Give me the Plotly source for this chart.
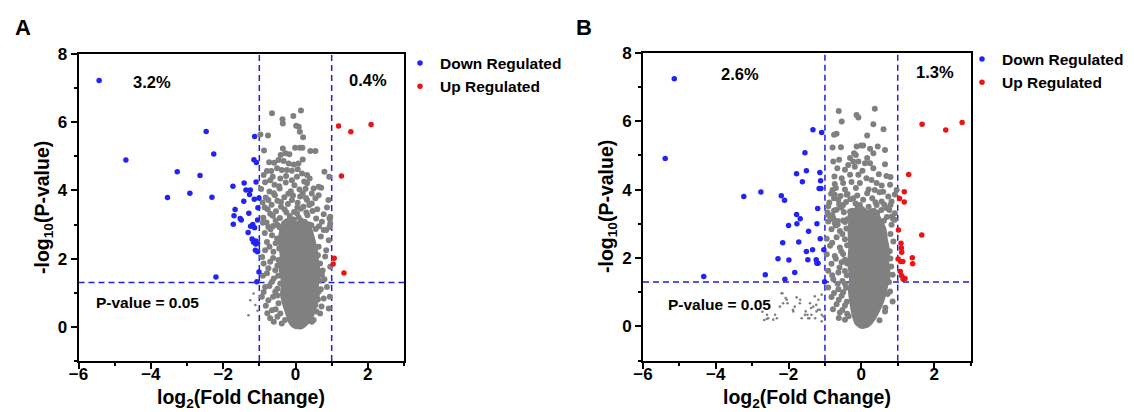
import plotly.graph_objects as go

W, H = 1134, 412
FONT = "Liberation Sans"
BLUE = "rgb(35,35,245)"
RED = "rgb(235,20,20)"
GRAY = "rgb(128,128,128)"
DASH = "rgb(30,30,220)"

# ---------------- Panel A data ----------------
a_down_x = [-5.43, -4.69, -3.27, -3.54, -2.92, -2.64, -2.47, -2.26, -2.31, -2.20, -1.73, -1.42, -1.67, -1.70,
            -1.72, -1.53, -1.50, -1.37, -1.25, -1.27, -1.43, -1.29, -1.31, -1.24, -1.18, -1.13, -1.20, -1.16,
            -1.10, -1.10, -1.05, -1.13, -1.15, -1.08, -1.09, -1.14, -1.01, -1.04, -1.05, -1.11, -1.05, -1.01, -1.07]
a_down_y = [7.22, 4.89, 4.55, 3.79, 3.92, 4.44, 5.73, 5.07, 3.80, 1.46, 4.12, 4.22, 3.44, 3.26,
            3.01, 3.18, 3.13, 4.01, 4.01, 3.88, 3.68, 3.33, 2.77, 2.95, 3.00, 2.91, 2.58, 2.48,
            2.52, 2.43, 2.45, 5.58, 4.90, 4.82, 4.25, 3.74, 3.78, 3.49, 3.13, 2.25, 2.20, 1.61, 1.32]
a_up_x = [1.19, 1.53, 2.09, 1.27, 1.07, 1.04, 1.34]
a_up_y = [5.89, 5.72, 5.93, 4.42, 2.01, 1.84, 1.58]

# dense core of the gray cloud (outline of overlapping points)
a_core_x = [-0.32, -0.12, 0.05, 0.25, 0.40, 0.48, 0.55, 0.58, 0.62, 0.58, 0.60, 0.52, 0.45, 0.30, 0.15,
            -0.02, -0.12, -0.20, -0.28, -0.36, -0.33, -0.40, -0.37, -0.42]
a_core_y = [3.05, 3.15, 3.02, 3.10, 2.85, 2.55, 2.25, 1.95, 1.60, 1.25, 0.90, 0.60, 0.35, 0.12, 0.00,
            0.02, 0.12, 0.35, 0.60, 0.95, 1.30, 1.70, 2.10, 2.55]

a_gray_x = [-0.65, -0.36, -0.35, -0.06, 0.15, 0.02, 0.09, 0.12, 0.21, -0.97, -0.76, -0.87, -0.35, -0.41, -0.28,
            -0.17, -0.01, 0.12, 0.19, 0.41, 0.55, 0.20, -0.47, -0.59, -0.73, -0.33, -0.19, -0.05, 0.08, -0.79,
            -0.67, -0.51, -0.38, -0.24, -0.10, 0.06, 0.18, 0.32, 0.80, 0.93, -0.88, -0.63, -0.42, -0.26, 0.04,
            0.39, 0.64, 0.71, 0.50, 0.32, 0.45, 0.64, 0.55, 0.91, 0.87, 0.78, 0.96, 0.73, 0.96, 0.32, 0.13,
            0.22, 0.04,
            -0.84, -0.58, -0.27, -0.03, 0.24,
            -0.95, -0.72, -0.44, -0.13, 0.11,
            -0.82, -0.57, -0.31, -0.07, 0.29,
            -0.91, -0.66, -0.40, -0.21, 0.06, 0.38,
            -0.77, -0.54, -0.30, -0.04, 0.15, 0.47,
            -0.89, -0.63, -0.43, -0.16, 0.09, 0.33, 0.57,
            -0.80, -0.50, -0.27, 0.01, 0.21, 0.44,
            -0.69, -0.44, 0.56,
            0.94, 0.94, 0.85,
            -0.75, -0.65, -0.79, -0.51, -0.84, -0.61, -0.70, -0.88, -0.47, -0.56, -0.79, -0.65, -0.42, -0.84,
            -0.56, -0.75, -0.47, -0.65, -0.42, -0.70, -0.29, -0.93,
            0.78, 0.92, 0.64, 0.82, 0.96, 0.68, 0.73, 0.87, 0.64, 0.78, 0.55, 0.92, 0.95, 0.68, 0.50,
            -0.85, -0.55, -0.72, -0.45, -0.92, -0.62, -0.50, -0.75, -0.90, -0.48, -0.60, -0.72, -0.50, -0.88,
            -0.62, -0.50, -0.82, -0.55, -0.78, -0.50, -0.38, -0.60,
            0.70, 0.62, 0.75, 0.66, 0.80, 0.70, 0.62, 0.72, 0.58, 0.45, 0.85,
            -0.70, -0.45, -0.10, 0.28, -0.60, -0.20, 0.20, -0.75, -0.50, -0.10, 0.45, -0.85, -0.40, 0.05,
            0.30, -0.70, -0.25, 0.60, -0.55, -0.05, 0.15, 0.38, -0.90, -0.62, -0.35, 0.65]
a_gray_y = [6.26, 6.09, 5.96, 6.18, 6.34, 5.90, 5.87, 5.72, 5.56, 5.64, 5.61, 5.17, 5.23, 5.04, 5.09,
            5.06, 5.25, 5.25, 5.25, 5.16, 5.16, 4.91, 4.89, 4.81, 4.83, 4.86, 4.79, 4.76, 4.79, 4.57,
            4.57, 4.65, 4.60, 4.60, 4.58, 4.62, 4.50, 4.45, 4.55, 4.40, 4.45, 4.40, 4.35, 4.42, 4.40,
            4.35, 4.11, 4.08, 4.06, 4.21, 3.91, 3.86, 3.77, 3.72, 3.50, 3.30, 3.23, 3.08, 3.03, 3.72, 3.82,
            3.52, 3.33,
            4.24, 4.17, 4.23, 4.15, 4.26,
            4.04, 3.97, 4.06, 3.98, 4.03,
            3.79, 3.86, 3.80, 3.85, 3.78,
            3.65, 3.58, 3.66, 3.60, 3.64, 3.57,
            3.45, 3.39, 3.44, 3.37, 3.46, 3.40,
            3.20, 3.26, 3.19, 3.25, 3.21, 3.27, 3.18,
            3.06, 2.99, 3.05, 3.00, 3.07, 2.98,
            2.86, 2.92, 2.87,
            3.18, 2.93, 2.84,
            2.93, 2.69, 2.49, 2.59, 2.25, 2.20, 1.91, 1.86, 1.96, 1.66, 1.57, 1.32, 1.27, 1.17,
            1.03, 0.78, 0.69, 0.49, 0.39, 0.25, 0.20, 0.88,
            2.84, 2.54, 2.35, 2.06, 1.76, 1.86, 1.52, 1.17, 1.03, 0.83, 0.64, 0.54, 0.88, 0.39, 0.20,
            2.75, 2.45, 2.35, 2.30, 2.05, 2.02, 1.80, 1.72, 1.50, 1.50, 1.42, 1.20, 1.12, 1.02,
            0.88, 0.92, 0.62, 0.52, 0.40, 0.30, 0.10, 0.15,
            2.65, 2.10, 1.65, 1.35, 1.40, 1.10, 0.80, 0.60, 0.45, 0.15, 2.25,
            4.30, 4.12, 4.30, 4.05, 3.92, 3.90, 3.92, 3.72, 3.70, 3.72, 3.62, 3.50, 3.52, 3.50,
            3.35, 3.32, 3.35, 3.45, 3.12, 3.15, 3.12, 3.00, 3.05, 2.96, 2.80, 2.95]
a_small_x = [-1.16, -1.25, -1.11, -1.30, -1.05]
a_small_y = [0.98, 0.78, 0.64, 0.34, 0.47]

# ---------------- Panel B data ----------------
b_down_x = [-5.14, -5.39, -3.23, -2.76, -2.20, -2.11, -4.33, -2.64, -2.29, -2.16, -2.00, -1.99, -2.10, -1.83,
            -1.78, -1.68, -1.77, -1.72, -1.78, -1.62, -1.51, -1.55, -1.45, -1.51, -1.47, -1.33, -1.34, -1.24,
            -1.22, -1.19, -1.20, -1.22, -1.14, -1.12, -1.16, -1.11, -1.09, -1.13, -1.03, -1.01]
b_down_y = [7.24, 4.91, 3.80, 3.93, 3.82, 3.69, 1.46, 1.51, 1.98, 2.45, 2.95, 1.94, 1.38, 1.58,
            3.27, 3.15, 3.00, 2.47, 4.46, 4.23, 4.55, 5.08, 2.78, 2.19, 1.95, 5.75, 2.24, 1.95,
            1.85, 1.85, 3.45, 3.00, 4.50, 4.26, 4.03, 4.03, 5.67, 2.56, 2.24, 1.31]
b_up_x = [1.67, 2.32, 2.77, 1.30, 1.18, 1.18, 1.05, 1.66, 1.02, 1.09, 1.10, 1.11, 1.01, 1.08, 1.14,
          1.40, 1.41, 1.07, 1.11, 1.15, 1.20]
b_up_y = [5.91, 5.74, 5.96, 4.44, 3.94, 3.64, 3.74, 2.67, 2.82, 2.43, 2.29, 2.17, 1.97, 1.90, 1.90,
          2.01, 1.83, 1.61, 1.48, 1.38, 1.40]

b_core_x = [-0.22, 0.02, 0.15, 0.35, 0.48, 0.62, 0.66, 0.72, 0.70, 0.74, 0.66, 0.58, 0.46, 0.32, 0.18,
            0.02, -0.12, -0.20, -0.26, -0.30, -0.27, -0.32, -0.29, -0.31]
b_core_y = [3.35, 3.45, 3.32, 3.40, 3.15, 2.85, 2.55, 2.20, 1.85, 1.50, 1.15, 0.80, 0.50, 0.22, 0.05,
            0.00, 0.10, 0.35, 0.70, 1.05, 1.45, 1.85, 2.30, 2.85]

b_gray_x = [-0.62, -0.54, -0.13, -0.08, 0.37, 0.33, 0.61, 0.16, -0.75, -0.68, -0.79, -0.56, -0.13, -0.01, 0.05,
            0.24, 0.45, 0.65, -0.20, -0.15, 0.33, -0.31, 0.16, -0.61, -0.77, -0.22, -0.08, 0.10, 0.24, 0.65,
            -0.36, -0.66, -0.45, -0.18, 0.33, 0.03, 0.48, 0.69, 0.80, -0.74, -0.54, -0.31, -0.08, 0.14, 0.28,
            -0.73, -0.79, -0.50, -0.27, -0.04, 0.42, 0.56, 0.79, 0.37, 0.60, 0.92, 0.97, 0.74, 0.56, 0.83,
            0.42, 0.69, 0.92, -0.73, -0.63, -0.68, -0.91, -0.91, -0.77, -0.40, -0.50, -0.22, -0.04, -0.31,
            0.05, 0.24, 0.83, 0.92,
            -0.83, -0.57, -0.38, -0.11, 0.16,
            -0.88, -0.61, -0.42, -0.16, 0.39, 0.63,
            -0.93, -0.75, -0.48, -0.24, 0.44, 0.77,
            -0.84, -0.65, -0.38, 0.62, 0.87,
            -0.91, -0.73, -0.50, -0.82, -0.59, -0.41, -0.95, -0.68, -0.45, -0.86, -0.59, -0.39,
            -0.95, -0.73, -0.50, -0.82, -0.54, -0.39, -0.91, -0.63, -0.45, -0.77, -0.52,
            -0.91, -0.63, -0.42, -0.82, -0.54, -0.68, -0.45, -0.59, -0.39, -0.45,
            0.83, 0.88, 0.80, 0.86, 0.79, 0.86, 0.65,
            -0.70, -0.52, -0.80, -0.55, -0.70, -0.45, -0.60, -0.80, -0.40, -0.65, -0.45, -0.75, -0.50, -0.62,
            -0.40, -0.78, -0.52, -0.35, -0.62,
            0.80, 0.78, 0.82, 0.76, 0.72, 0.66, 0.50,
            -0.70, -0.45, -0.15, 0.20, 0.50, -0.75, -0.30, 0.05, 0.30, 0.80, -0.55, -0.10, 0.20, 0.55,
            -0.80, -0.30, 0.10, 0.70, -0.65, -0.45]
b_gray_y = [6.30, 5.99, 6.18, 6.11, 6.36, 5.91, 5.76, 5.58, 5.60, 5.63, 5.23, 5.24, 5.26, 5.29, 5.29,
            5.19, 5.26, 5.16, 5.06, 5.01, 5.06, 4.92, 4.92, 4.87, 4.82, 4.82, 4.82, 4.77, 4.77, 4.74,
            4.72, 4.62, 4.58, 4.67, 4.62, 4.55, 4.45, 4.40, 4.37, 4.38, 4.33, 4.43, 4.43, 4.33, 4.28,
            4.16, 3.99, 4.19, 4.22, 4.19, 4.19, 4.12, 4.14, 3.99, 3.94, 3.86, 3.99, 3.80, 3.65, 3.65,
            3.55, 3.46, 3.31, 3.85, 3.70, 3.41, 3.51, 3.26, 3.16, 3.85, 3.55, 3.75, 3.55, 3.36,
            3.36, 3.16, 3.21, 3.12,
            3.88, 3.81, 3.87, 3.83, 3.89,
            3.62, 3.57, 3.64, 3.59, 3.63, 3.56,
            3.33, 3.39, 3.34, 3.38, 3.32, 3.40,
            3.14, 3.08, 3.13, 3.09, 3.15,
            3.07, 3.02, 3.10, 2.84, 2.79, 2.86, 2.56, 2.61, 2.55, 2.36, 2.31, 2.37,
            2.11, 2.06, 2.12, 1.83, 1.88, 1.84, 1.63, 1.58, 1.62, 1.38, 1.33,
            1.14, 1.09, 1.13, 0.86, 0.90, 0.65, 0.61, 0.41, 0.37, 0.20,
            2.97, 2.48, 1.99, 1.51, 1.02, 0.73, 0.44,
            2.95, 2.70, 2.45, 2.20, 1.98, 1.95, 1.72, 1.50, 1.50, 1.25, 1.25, 0.98, 1.00, 0.78,
            0.72, 0.50, 0.48, 0.30, 0.25,
            2.70, 2.20, 1.75, 1.30, 0.95, 0.55, 0.18,
            4.05, 4.00, 4.05, 4.00, 3.92, 3.75, 3.72, 3.70, 3.75, 3.55, 3.48, 3.50, 3.50, 3.40,
            3.25, 3.22, 3.25, 3.20, 2.98, 3.05]
b_small_x = [-2.19, -2.05, -2.15, -2.24, -1.87, -1.78, -1.69, -2.37, -2.56, -2.42, -1.55, -1.41, -1.32, -1.37,
             -1.27, -1.18, -1.14, -1.23, -1.09, -1.46, -1.64, -1.09, -2.72, -2.60, -2.17, -2.59, -2.67, -2.32,
             -2.08, -2.03, -1.88, -1.83, -1.68, -1.48, -1.53, -1.43, -1.38, -1.28, -1.24, -1.19, -1.09, -1.04]
b_small_y = [0.97, 0.78, 0.68, 0.58, 0.44, 0.85, 0.68, 0.34, 0.24, 0.20, 0.34, 0.68, 0.58, 0.34,
             0.24, 0.78, 0.49, 0.44, 0.93, 0.24, 0.24, 0.34, 0.43, 0.22, 0.97, 0.34, 0.19, 0.24,
             0.83, 0.68, 0.49, 0.58, 0.78, 0.34, 0.44, 0.24, 0.54, 0.88, 0.63, 0.49, 0.15, 0.29]

# thresholds and labels
fc_cut = [-1, 1]
p_cut = 1.301
pct_a = ["3.2%", "0.4%"]
pct_b = ["2.6%", "1.3%"]
pval_label = "P-value = 0.05"
x_ticks = [-6, -4, -2, 0, 2]
y_ticks = [0, 2, 4, 6, 8]

fig = go.Figure()


def add_panel(xa, ya, leg, core_x, core_y, gx, gy, sx, sy, dx, dy, ux, uy):
    fig.add_trace(go.Scatter(x=core_x + core_x[:1], y=core_y + core_y[:1], mode="lines", fill="toself",
                             fillcolor=GRAY, line=dict(color=GRAY, width=5, shape="spline", smoothing=0.6),
                             showlegend=False, hoverinfo="skip", xaxis=xa, yaxis=ya))
    fig.add_trace(go.Scatter(x=gx, y=gy, mode="markers", marker=dict(color=GRAY, size=6),
                             showlegend=False, xaxis=xa, yaxis=ya))
    fig.add_trace(go.Scatter(x=sx, y=sy, mode="markers", marker=dict(color=GRAY, size=2.6),
                             showlegend=False, xaxis=xa, yaxis=ya))
    fig.add_trace(go.Scatter(x=dx, y=dy, mode="markers", name="Down Regulated",
                             marker=dict(color=BLUE, size=5.5), legend=leg, xaxis=xa, yaxis=ya))
    fig.add_trace(go.Scatter(x=ux, y=uy, mode="markers", name="Up Regulated",
                             marker=dict(color=RED, size=5.5), legend=leg, xaxis=xa, yaxis=ya))


add_panel("x", "y", "legend", a_core_x, a_core_y, a_gray_x, a_gray_y, a_small_x, a_small_y,
          a_down_x, a_down_y, a_up_x, a_up_y)
add_panel("x2", "y2", "legend2", b_core_x, b_core_y, b_gray_x, b_gray_y, b_small_x, b_small_y,
          b_down_x, b_down_y, b_up_x, b_up_y)

tickfont = dict(family=FONT, size=17, color="black", weight="bold")
axis_common = dict(showgrid=False, zeroline=False, showline=True, linecolor="black", linewidth=2,
                   mirror=True, ticks="outside", ticklen=6, tickwidth=2, tickcolor="black",
                   tickfont=tickfont, automargin=False,
                   minor=dict(ticks="outside", ticklen=3, tickwidth=2,
                              tickcolor="black", dtick=1, showgrid=False))
xaxis_common = dict(axis_common, ticklabelstandoff=-9)

fig.update_layout(
    width=W, height=H, margin=dict(l=0, r=0, t=0, b=0, autoexpand=False),
    paper_bgcolor="white", plot_bgcolor="white",
    font=dict(family=FONT, color="black"),
    xaxis=dict(domain=[78.5 / W, 404 / W], range=[-6, 3], tickvals=x_ticks, anchor="y", **xaxis_common),
    yaxis=dict(domain=[1 - 361 / H, 1 - 54 / H], range=[-1, 8], tickvals=y_ticks, anchor="x", **axis_common),
    xaxis2=dict(domain=[643 / W, 970.5 / W], range=[-6, 3], tickvals=x_ticks, anchor="y2", **xaxis_common),
    yaxis2=dict(domain=[1 - 360.7 / H, 1 - 52.7 / H], range=[-1, 8], tickvals=y_ticks, anchor="x2", **axis_common),
    legend=dict(x=400 / W, y=1 - 46.5 / H, xanchor="left", yanchor="top", bgcolor="rgba(0,0,0,0)",
                font=dict(family=FONT, size=15.5, color="black", weight="bold")),
    legend2=dict(x=962 / W, y=1 - 42.5 / H, xanchor="left", yanchor="top", bgcolor="rgba(0,0,0,0)",
                 font=dict(family=FONT, size=15.5, color="black", weight="bold")),
)

# reference lines
for xa, ya in (("x", "y"), ("x2", "y2")):
    for c in fc_cut:
        fig.add_shape(type="line", xref=xa, yref=f"{ya} domain", x0=c, x1=c, y0=0, y1=1, layer="below",
                      line=dict(color=DASH, width=1.5, dash="6px,4px"))
    fig.add_shape(type="line", xref=f"{xa} domain", yref=ya, x0=0, x1=1, y0=p_cut, y1=p_cut, layer="below",
                  line=dict(color=DASH, width=1.5, dash="6px,4px"))


def txt(x, y, s, size, angle=0):
    fig.add_annotation(x=x / W, y=1 - y / H, xref="paper", yref="paper", text=s, showarrow=False,
                       textangle=angle, xanchor="center", yanchor="middle",
                       font=dict(family=FONT, size=size, color="black", weight="bold"))


txt(22.5, 28, "A", 22)
txt(583.5, 28, "B", 22)
txt(152, 82, pct_a[0], 16.5)
txt(368, 80, pct_a[1], 16.5)
txt(739.6, 74, pct_b[0], 16.5)
txt(935.3, 72, pct_b[1], 16.5)
txt(147, 302, pval_label, 15.5)
txt(719.3, 304, pval_label, 15.5)
txt(241, 398, "log<sub>2</sub>(Fold Change)", 19.5)
txt(807, 398, "log<sub>2</sub>(Fold Change)", 19.5)
txt(43, 208, "-log<sub>10</sub>(P-value)", 19.5, -90)
txt(607, 207, "-log<sub>10</sub>(P-value)", 19.5, -90)

fig.write_html("out.html", config={"displayModeBar": False},
               post_script="document.body.style.margin='0';document.body.style.overflow='hidden';")
